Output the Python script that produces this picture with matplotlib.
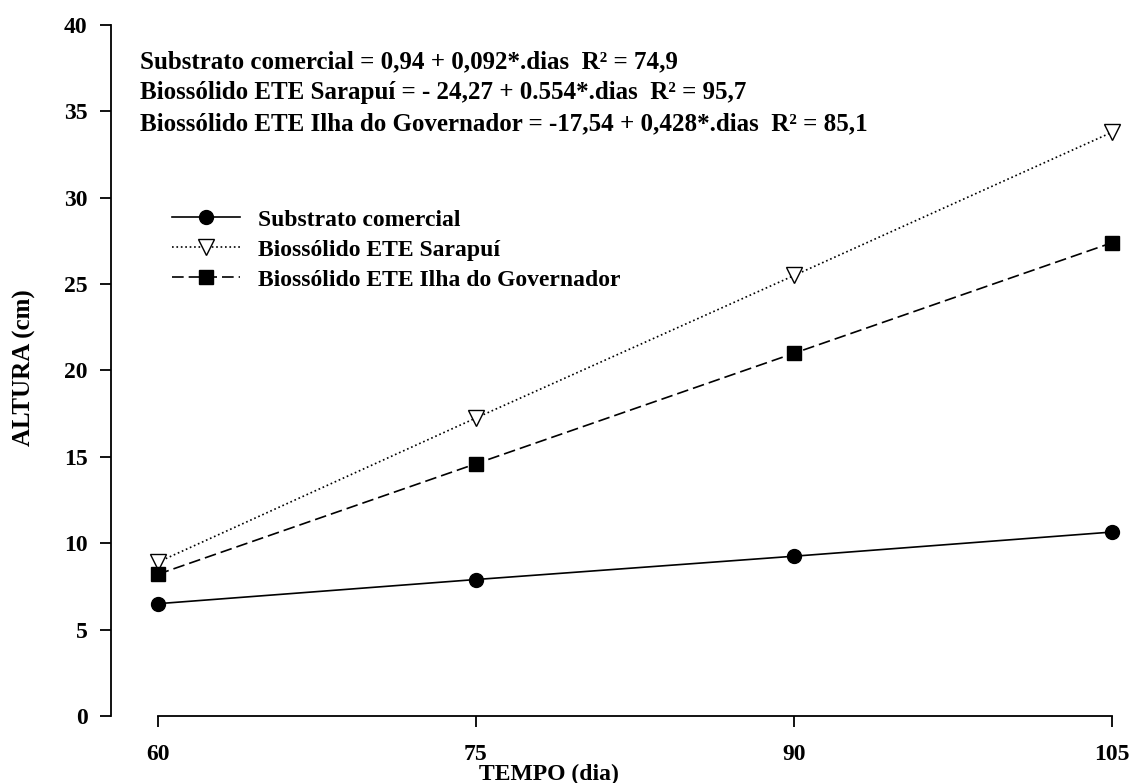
import matplotlib
matplotlib.use('Agg')
import matplotlib.pyplot as plt

dias = [60, 75, 90, 105]
substrato = [6.5, 7.9, 9.25, 10.65]
sarapui = [8.9, 17.25, 25.5, 33.8]
ilha = [8.2, 14.6, 21.0, 27.4]

labels = ['Substrato comercial', 'Biossólido ETE Sarapuí', 'Biossólido ETE Ilha do Governador']
equacoes = ['Substrato comercial = 0,94 + 0,092*.dias  R² = 74,9',
            'Biossólido ETE Sarapuí = - 24,27 + 0.554*.dias  R² = 95,7',
            'Biossólido ETE Ilha do Governador = -17,54 + 0,428*.dias  R² = 85,1']

plt.rcParams['font.family'] = 'Liberation Serif'
plt.rcParams['font.weight'] = 'bold'

fig = plt.figure(figsize=(11.36, 7.83), dpi=100)
ax = fig.add_axes([111/1136, 67/783, 1014/1136, 691/783])

ax.plot(dias, substrato, '-', color='black', lw=1.2, marker='o', ms=10, label=labels[0], clip_on=False)
ax.plot(dias, sarapui, ':', color='black', lw=1.2, marker='v', ms=12, mfc='white', mec='black', mew=1.0, label=labels[1], clip_on=False)
ax.plot(dias, ilha, '--', color='black', lw=1.2, dashes=(7, 3), marker='s', ms=10, label=labels[2], clip_on=False)

ax.set_xlim(57.8, 105.6)
ax.set_ylim(0, 40)
ax.set_xticks(dias)
ax.set_yticks(range(0, 41, 5))
ax.spines['top'].set_visible(False)
ax.spines['right'].set_visible(False)
ax.spines['left'].set_bounds(0, 40)
ax.spines['bottom'].set_bounds(60, 105)
for s in ['left', 'bottom']:
    ax.spines[s].set_linewidth(1.3)
ax.tick_params(axis='both', direction='out', length=8, width=1.3, labelsize=17)
ax.tick_params(axis='x', pad=12)
ax.tick_params(axis='y', pad=9)

fig.text(549/1136, 1 - 774/783, 'TEMPO (dia)', ha='center', va='center', fontsize=17, fontweight='bold')
fig.text(24/1136, 1 - 368/783, 'ALTURA (cm)', ha='center', va='center', rotation=90, fontsize=18, fontweight='bold')

for i, eq in enumerate(equacoes):
    fig.text(140/1136, 1 - (62 + i*31)/783, eq, ha='left', va='center', fontsize=18, fontweight='bold')

leg = ax.legend(loc='upper left', bbox_to_anchor=((172 - 111)/1014, 1 - (209 - 25)/691), frameon=False,
                fontsize=17, handlelength=2.9, labelspacing=0.36, handletextpad=0.75,
                borderpad=0, borderaxespad=0)

fig.savefig('out.png', dpi=100)
